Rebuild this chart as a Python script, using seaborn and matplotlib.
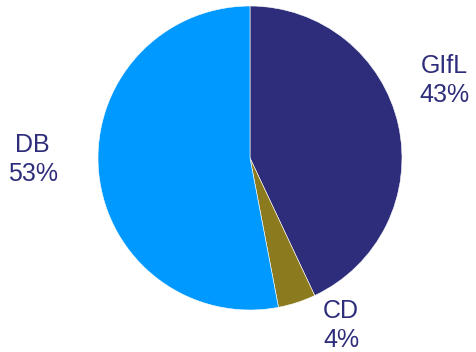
import matplotlib
matplotlib.use("Agg")
import matplotlib.pyplot as plt
import seaborn as sns

sns.set_theme(style="white")
plt.rcParams["font.family"] = ["Liberation Sans", "DejaVu Sans"]

categories = ["GIfL", "CD", "DB"]
shares = [43, 4, 53]
colors = ["#2E2D7B", "#8C7A1E", "#0099FF"]
text_color = "#2E2D7B"

fig = plt.figure(figsize=(4.76, 3.52), dpi=100)
W, H = 476, 352
cx, cy, r = 250, 158, 152
ax = fig.add_axes([(cx - r) / W, 1 - (cy + r) / H, 2 * r / W, 2 * r / H])

wedges, _ = ax.pie(
    shares,
    colors=colors,
    startangle=90,
    counterclock=False,
    radius=1.0,
    wedgeprops=dict(edgecolor="white", linewidth=0.4),
)
ax.set_xlim(-1, 1)
ax.set_ylim(-1, 1)
ax.set_aspect("equal")
ax.axis("off")

label_pos = {"GIfL": (1.28, 0.51), "CD": (0.60, -1.10), "DB": (-1.43, -0.01)}
for name, val in zip(categories, shares):
    x, y = label_pos[name]
    ax.text(x, y, f"{name}\n{val}%", ha="center", va="center",
            fontsize=18, color=text_color, linespacing=1.28, clip_on=False)

fig.savefig("out.png", dpi=100)
